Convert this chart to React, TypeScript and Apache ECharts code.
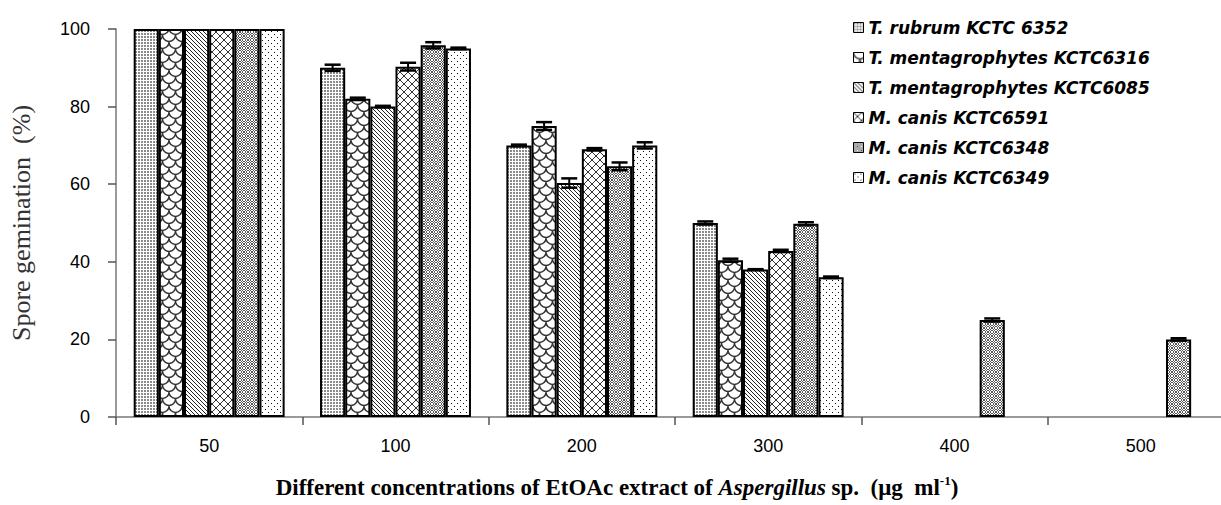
import React, { useEffect, useRef } from "react";
import * as echarts from "echarts";

const categories = ["50", "100", "200", "300", "400", "500"];
const seriesNames = [
  "T. rubrum KCTC 6352",
  "T. mentagrophytes KCTC6316",
  "T. mentagrophytes KCTC6085",
  "M. canis KCTC6591",
  "M. canis KCTC6348",
  "M. canis KCTC6349",
];
const rubrum6352 = [100, 90, 70, 50, null, null];
const menta6316 = [100, 82, 75, 40.4, null, null];
const menta6085 = [100, 80, 60.3, 38, null, null];
const canis6591 = [100, 90.3, 69, 42.8, null, null];
const canis6348 = [100, 95.8, 64.6, 49.8, 25, 20];
const canis6349 = [100, 95, 70, 36, null, null];

const err6352 = [null, 0.8, 0.2, 0.4, null, null];
const err6316 = [null, 0.3, 1.0, 0.4, null, null];
const err6085 = [null, 0.2, 1.2, 0.1, null, null];
const err6591 = [null, 1.0, 0.3, 0.3, null, null];
const err6348 = [null, 0.8, 1.0, 0.4, 0.4, 0.3];
const err6349 = [null, 0.2, 0.8, 0.2, null, null];

const yTicks = { min: 0, max: 100, interval: 20 };
const xTitle = "Different concentrations of EtOAc extract of ";
const xTitleItalic = "Aspergillus";
const xTitleEnd = " sp.  (μg  ml";
const xTitleSup = "-1";
const yTitle = "Spore gemination  (%)";

const values = [rubrum6352, menta6316, menta6085, canis6591, canis6348, canis6349];
const errors = [err6352, err6316, err6085, err6591, err6348, err6349];

const GAP = 0.19;

function makePattern(w: number, h: number, draw: (ctx: CanvasRenderingContext2D) => void) {
  const c = document.createElement("canvas");
  c.width = w;
  c.height = h;
  const ctx = c.getContext("2d")!;
  ctx.fillStyle = "#fff";
  ctx.fillRect(0, 0, w, h);
  draw(ctx);
  return { image: c, repeat: "repeat", imageWidth: w, imageHeight: h } as any;
}

function buildPatterns() {
  const p1 = makePattern(3, 3, (ctx) => {
    ctx.fillStyle = "#8a8a8a";
    ctx.fillRect(0, 0, 2, 2);
  });
  const p2 = makePattern(13, 14, (ctx) => {
    ctx.strokeStyle = "#333";
    ctx.lineWidth = 1.4;
    ctx.beginPath();
    ctx.arc(6.5, 0, 6.5, 0, Math.PI);
    ctx.stroke();
    ctx.beginPath();
    ctx.arc(0, 7, 6.5, 0, Math.PI);
    ctx.stroke();
    ctx.beginPath();
    ctx.arc(13, 7, 6.5, 0, Math.PI);
    ctx.stroke();
    ctx.beginPath();
    ctx.arc(6.5, 14, 6.5, 0, Math.PI);
    ctx.stroke();
  });
  const p3 = makePattern(4, 4, (ctx) => {
    ctx.fillStyle = "#222";
    for (let i = 0; i < 4; i++) ctx.fillRect(i, i, 1, 1);
  });
  const p4 = makePattern(8, 8, (ctx) => {
    ctx.fillStyle = "#333";
    for (let i = 0; i < 8; i++) {
      ctx.fillRect(i, i, 1, 1);
      ctx.fillRect(i, 7 - i, 1, 1);
    }
  });
  const p5 = makePattern(8, 8, (ctx) => {
    ctx.fillStyle = "#555";
    for (let i = 0; i < 4; i++) {
      // top-left: "\" pair
      ctx.fillRect(i, i, 1, 1);
      ctx.fillRect(i, (i + 2) % 4, 1, 1);
      // top-right: "/" pair
      ctx.fillRect(4 + i, 3 - i, 1, 1);
      ctx.fillRect(4 + i, (5 - i) % 4, 1, 1);
      // bottom-left: "/" pair
      ctx.fillRect(i, 4 + (3 - i), 1, 1);
      ctx.fillRect(i, 4 + ((5 - i) % 4), 1, 1);
      // bottom-right: "\" pair
      ctx.fillRect(4 + i, 4 + i, 1, 1);
      ctx.fillRect(4 + i, 4 + ((i + 2) % 4), 1, 1);
    }
  });
  const p6 = makePattern(6, 6, (ctx) => {
    ctx.fillStyle = "#111";
    ctx.fillRect(1, 1, 1, 1);
    ctx.fillRect(4, 4, 1, 1);
  });
  return [p1, p2, p3, p4, p5, p6];
}

export default function App() {
  const ref = useRef<HTMLDivElement>(null);
  useEffect(() => {
    if (!ref.current) return;
    const chart = echarts.init(ref.current, undefined, { renderer: "svg" });
    const patterns = buildPatterns();
    const n = seriesNames.length;

    const barSeries = seriesNames.map((name, i) => ({
      name,
      type: "bar",
      data: values[i],
      barGap: "0%",
      barCategoryGap: GAP * 100 + "%",
      itemStyle: { color: patterns[i], borderColor: "#000", borderWidth: 2 },
    }));

    const errSeries = seriesNames.map((name, i) => ({
      type: "custom",
      name: name + " err",
      z: 10,
      encode: { x: 0, y: 1 },
      data: errors[i]
        .map((e, c) => (e == null || values[i][c] == null ? null : [c, values[i][c], e]))
        .filter((d) => d != null),
      renderItem: (params: any, api: any) => {
        const cat = api.value(0);
        const val = api.value(1);
        const e = api.value(2);
        const band = api.size([1, 0])[0];
        const barW = (band * (1 - GAP)) / n;
        const center = api.coord([cat, val]);
        const x = center[0] + (-n / 2 + i + 0.5) * barW;
        const hi = api.coord([cat, val + e])[1];
        const lo = api.coord([cat, val - e])[1];
        const cw = 8;
        const st = { stroke: "#000", lineWidth: 2.5 };
        return {
          type: "group",
          children: [
            { type: "line", shape: { x1: x, y1: hi, x2: x, y2: lo }, style: { stroke: "#000", lineWidth: 2 } },
            { type: "line", shape: { x1: x - cw, y1: hi, x2: x + cw, y2: hi }, style: st },
            { type: "line", shape: { x1: x - cw, y1: lo, x2: x + cw, y2: lo }, style: st },
          ],
        };
      },
    }));

    chart.setOption({
      animation: false,
      backgroundColor: "#fff",
      grid: { left: 116, right: 0, top: 29, bottom: 88 },
      legend: {
        data: seriesNames,
        orient: "vertical",
        left: 848,
        top: 14,
        itemWidth: 10,
        itemHeight: 10,
        itemGap: 13,
        icon: "rect",
        itemStyle: { borderWidth: 1, borderColor: "#000" },
        textStyle: {
          fontFamily: "DejaVu Sans",
          fontStyle: "italic",
          fontWeight: "bold",
          fontSize: 17,
          color: "#000",
        },
      },
      xAxis: {
        type: "category",
        data: categories,
        axisLine: { lineStyle: { color: "#777", width: 1.5 } },
        axisTick: { show: true, length: 8, lineStyle: { color: "#555", width: 1.5 } },
        axisLabel: { fontFamily: "Liberation Sans", fontSize: 18, color: "#000", margin: 20 },
      },
      yAxis: {
        type: "value",
        min: yTicks.min,
        max: yTicks.max,
        interval: yTicks.interval,
        name: yTitle,
        nameLocation: "middle",
        nameGap: 82,
        nameRotate: 90,
        nameTextStyle: { fontFamily: "Liberation Serif", fontSize: 26, color: "#333" },
        splitLine: { show: false },
        axisLine: { show: true, lineStyle: { color: "#777", width: 1.5 } },
        axisTick: { show: true, length: 8, lineStyle: { color: "#555", width: 1.5 } },
        axisLabel: { fontFamily: "Liberation Sans", fontSize: 18, color: "#000", margin: 26 },
      },
      graphic: [
        {
          type: "text",
          x: 617,
          y: 487,
          style: {
            text: "{b|" + xTitle + "}{i|" + xTitleItalic + "}{b|" + xTitleEnd + "}{s|" + xTitleSup + "}{b|)}",
            align: "center",
            verticalAlign: "middle",
            rich: {
              b: { fontFamily: "Liberation Serif", fontWeight: "bold", fontSize: 23, lineHeight: 26, fill: "#000" },
              i: { fontFamily: "Liberation Serif", fontWeight: "bold", fontStyle: "italic", fontSize: 23, lineHeight: 26, fill: "#000" },
              s: { fontFamily: "Liberation Serif", fontWeight: "bold", fontSize: 13, lineHeight: 13, verticalAlign: "top", fill: "#000" },
            },
          },
        },
      ],
      series: [...barSeries, ...errSeries],
    });
    return () => chart.dispose();
  }, []);
  return (
    <div style={{ position: "absolute", left: 0, top: 0, width: 1221, height: 505, overflow: "hidden", background: "#fff" }}>
      <div ref={ref} style={{ width: 1234, height: 505 }} />
    </div>
  );
}
